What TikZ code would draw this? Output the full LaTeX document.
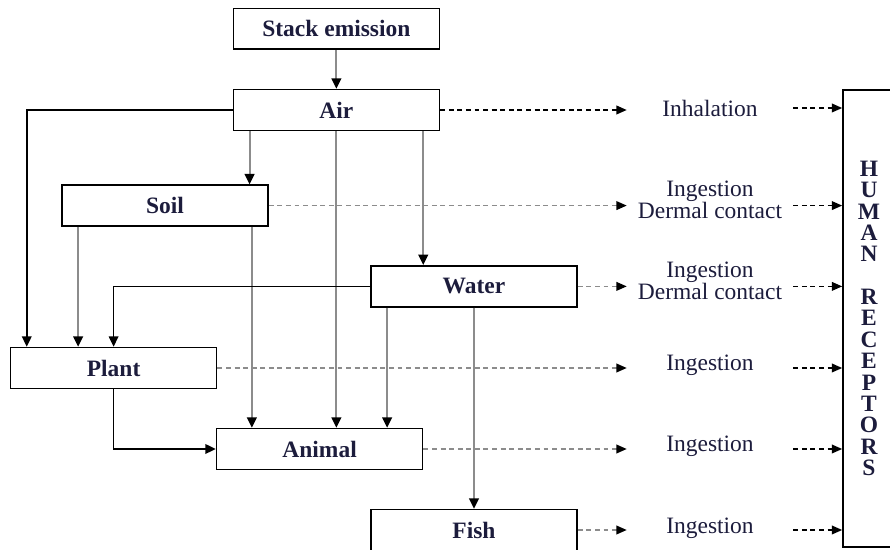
\documentclass[tikz,border=0pt]{standalone}
\usepackage{fontspec}
\setmainfont{Liberation Serif}
\usetikzlibrary{arrows.meta}
\definecolor{inkblue}{RGB}{28,28,60}
\definecolor{flowgray}{RGB}{140,140,140}
\begin{document}
\begin{tikzpicture}[
        every node/.style={font=\fontsize{16.7}{15.6}\selectfont, text=inkblue},
        box/.style={draw, line width=1.2pt, minimum width=5.15cm, minimum height=1.02cm, font=\fontsize{16.7}{20}\selectfont\bfseries},
        route/.style={minimum width=4.15cm, align=center, inner sep=0pt},
        flow/.style={line width=1.5pt, draw=flowgray, -{Triangle[length=0.26cm, width=0.24cm, color=black]}},
        link/.style={line width=1.2pt, black, -{Triangle[length=0.26cm, width=0.24cm]}},
        expo/.style={line width=1pt, draw=flowgray, dash pattern=on 3.5pt off 2.6pt, -{Triangle[length=0.26cm, width=0.22cm, color=black]}}]
        \useasboundingbox (0,0) rectangle (22.25,13.75);

        % Nodes
        \node[box] (stack)  at (8.41,13.03) {Stack emission};
        \node[box] (air)    at (8.41,11.0)  {Air};
        \node[box] (soil)   at (4.125,8.61) {Soil};
        \node[box] (water)  at (11.85,6.59) {Water};
        \node[box] (plant)  at (2.84,4.55)  {Plant};
        \node[box] (animal) at (7.99,2.525) {Animal};
        \node[box] (fish)   at (11.85,0.5)  {Fish};

        \node[draw, line width=1.2pt, minimum width=1.3cm, minimum height=11.425cm, align=center,
              font=\fontsize{16.7}{15.2}\selectfont\bfseries] (receptors) at (21.725,5.79)
              {H\\U\\M\\A\\N\\\mbox{}\\R\\E\\C\\E\\P\\T\\O\\R\\S};

        % Exposure routes
        \node[route] (inh)  at (17.75,11.05) {Inhalation};
        \node[route] (soilexp)  at (17.75,8.75) {Ingestion\\Dermal contact};
        \node[route] (waterexp) at (17.75,6.72) {Ingestion\\Dermal contact};
        \node[route] (plantexp) at (17.75,4.62) {Ingestion};
        \node[route] (animalexp) at (17.75,2.6) {Ingestion};
        \node[route] (fishexp)  at (17.75,0.55) {Ingestion};

        % Transfer between media
        \draw[flow] (stack) -- (air);
        \draw[link] (air.west) -| ([xshift=0.425cm]plant.north west);
        \draw[flow] ([xshift=0.425cm]air.south west) -- ([xshift=0.425cm]air.south west |- soil.north);
        \draw[flow] (air.south) -- (air.south |- animal.north);
        \draw[flow] ([xshift=-0.425cm]air.south east) -- ([xshift=-0.425cm]air.south east |- water.north);
        \draw[flow] ([xshift=0.425cm]soil.south west) -- ([xshift=0.425cm]soil.south west |- plant.north);
        \draw[flow] ([xshift=-0.425cm]soil.south east) -- ([xshift=-0.425cm]soil.south east |- animal.north);
        \draw[link] (water.west) -| (plant.north);
        \draw[flow] ([xshift=0.425cm]water.south west) -- ([xshift=0.425cm]water.south west |- animal.north);
        \draw[flow] (water) -- (fish);
        \draw[link] (plant.south) |- (animal.west);

        % Dashed lines to exposure routes
        \draw[expo, draw=black] (air.east) -- (air.east -| inh.west);
        \draw[expo] (soil.east) -- (soil.east -| soilexp.west);
        \draw[expo] (water.east) -- (water.east -| waterexp.west);
        \draw[expo] (plant.east) -- (plant.east -| plantexp.west);
        \draw[expo] (animal.east) -- (animal.east -| animalexp.west);
        \draw[expo] (fish.east) -- (fish.east -| fishexp.west);

        % Dashed lines to receptors
        \draw[expo, draw=black] (inh.east) -- (inh.east -| receptors.west);
        \draw[expo, draw=black] (soilexp.east |- soil.east) -- (soil.east -| receptors.west);
        \draw[expo, draw=black] (waterexp.east |- water.east) -- (water.east -| receptors.west);
        \draw[expo, draw=black] (plantexp.east |- plant.east) -- (plant.east -| receptors.west);
        \draw[expo, draw=black] (animalexp.east |- animal.east) -- (animal.east -| receptors.west);
        \draw[expo, draw=black] (fishexp.east |- fish.east) -- (fish.east -| receptors.west);
    \end{tikzpicture}
\end{document}
